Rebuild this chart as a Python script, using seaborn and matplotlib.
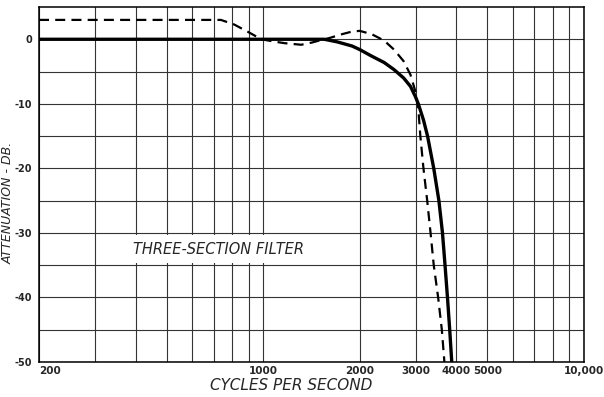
import numpy as np
import matplotlib
matplotlib.use("Agg")
import matplotlib.pyplot as plt
import seaborn as sns

# solid curve: frequency (c/s) and attenuation (db)
freq_solid = [200, 500, 1000, 1400, 1550, 1700, 1893, 2000, 2176, 2382, 2557,
              2740, 2878, 2982, 3044, 3159, 3253, 3401, 3529, 3621, 3688,
              3753, 3814, 3870]
db_solid = [0, 0, 0, 0, 0, -0.4, -1.05, -1.6, -2.6, -3.6, -4.7,
            -6.0, -7.3, -8.9, -10.0, -12.5, -15, -20, -25, -30, -35,
            -40, -45, -50]

# dashed curve
freq_dash = [200, 400, 700, 738, 811, 900, 986, 1080, 1164, 1313, 1420, 1520,
             1610, 1764, 1893, 2000, 2176, 2382, 2557, 2740, 2878, 2982,
             3044, 3089, 3159, 3245, 3324, 3401, 3510, 3604, 3671]
db_dash = [3, 3, 3, 3.0, 2.3, 1.1, 0, -0.35, -0.6, -0.85, -0.5, -0.1,
           0.2, 0.8, 1.2, 1.3, 0.8, -0.2, -1.6, -3.4, -5.5, -8.1,
           -10.7, -15, -20, -25, -30, -35, -40, -45, -50]

x_major = [200, 1000, 2000, 3000, 4000, 5000, 10000]
x_labels = ["200", "1000", "2000", "3000", "4000", "5000", "10,000"]
x_minor = [300, 400, 500, 600, 700, 800, 900, 6000, 7000, 8000, 9000]
y_major = [0, -10, -20, -30, -40, -50]
y_minor = [-5, -15, -25, -35, -45]

sns.set_style("white")
plt.rcParams['font.family'] = ['DejaVu Sans']

fig = plt.figure(figsize=(6.04, 3.97), dpi=100)
ax = fig.add_axes([39 / 604, 35 / 397, 545 / 604, 355 / 397])

sns.lineplot(x=freq_dash, y=db_dash, ax=ax, color="black", lw=1.6,
             linestyle=(0, (4.5, 2.8)), zorder=3)
sns.lineplot(x=freq_solid, y=db_solid, ax=ax, color="black", lw=2.4, zorder=4)

ax.set_xscale("log")
ax.set_xlim(200, 10000)
ax.set_ylim(-50, 5)

ax.set_xticks(x_major)
ax.set_xticklabels(x_labels)
ax.set_xticks(x_minor, minor=True)
ax.set_xticklabels([], minor=True)
ax.set_yticks(y_major)
ax.set_yticklabels([str(v) for v in y_major])
ax.set_yticks(y_minor, minor=True)

ax.grid(True, which="both", color="#333333", lw=0.8)
ax.set_axisbelow(True)

ax.tick_params(axis="x", which="both", length=0, pad=3, labelsize=7.5)
ax.tick_params(axis="y", which="major", length=4, width=0.8, pad=1,
               labelsize=7, direction="out")
ax.tick_params(axis="y", which="minor", length=0)
for lab in ax.get_xticklabels() + ax.get_yticklabels():
    lab.set_fontweight("bold")
ax.get_xticklabels()[0].set_horizontalalignment("left")

for sp in ax.spines.values():
    sp.set_visible(True)
    sp.set_color("black")
    sp.set_linewidth(1.1)

ax.set_xlabel("CYCLES PER SECOND", fontsize=11, style="italic")
ax.xaxis.set_label_coords((291 - 39) / 545, -0.045)
fig.text(8 / 604, 1 - 203 / 397, "ATTENUATION - DB.", fontsize=9,
         style="italic", rotation=90, ha="center", va="center")

ax.text(728, -32.5, "THREE-SECTION FILTER", fontsize=10.5, style="italic",
        ha="center", va="center", zorder=2,
        bbox=dict(boxstyle="square,pad=0.45", fc="white", ec="none"))

fig.savefig("out.png", dpi=100)
